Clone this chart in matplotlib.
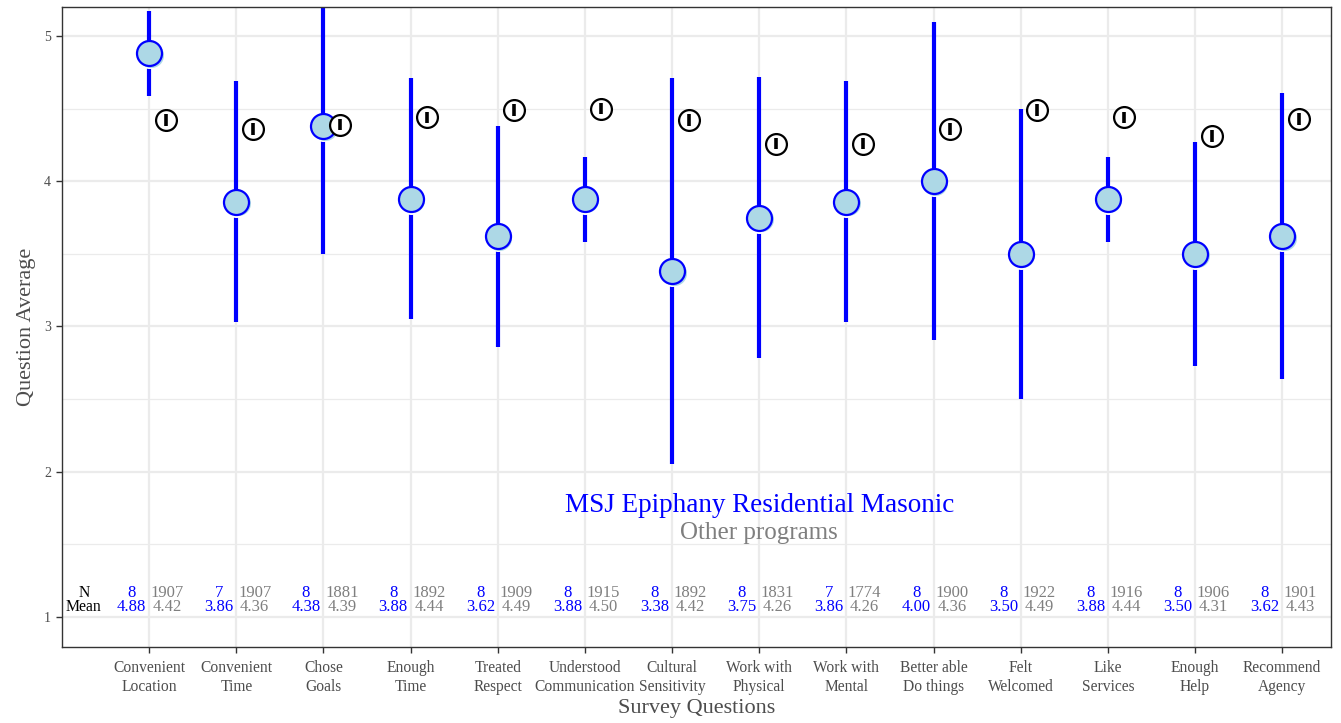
import matplotlib
matplotlib.use("Agg")
import matplotlib.pyplot as plt
import matplotlib.transforms as mtransforms
import numpy as np

plt.rcParams['font.family'] = ['Liberation Serif', 'DejaVu Serif']

questions = ["Convenient\nLocation", "Convenient\nTime", "Chose\nGoals", "Enough\nTime",
             "Treated\nRespect", "Understood\nCommunication", "Cultural\nSensitivity",
             "Work with\nPhysical", "Work with\nMental", "Better able\nDo things",
             "Felt\nWelcomed", "Like\nServices", "Enough\nHelp", "Recommend\nAgency"]

# program of interest
prog_n = [8, 7, 8, 8, 8, 8, 8, 8, 7, 8, 8, 8, 8, 8]
prog_mean = [4.88, 3.86, 4.38, 3.88, 3.62, 3.88, 3.38, 3.75, 3.86, 4.00, 3.50, 3.88, 3.50, 3.62]
prog_low = [4.59, 3.03, 3.50, 3.05, 2.86, 3.58, 2.05, 2.78, 3.03, 2.91, 2.50, 3.58, 2.73, 2.64]
prog_high = [5.17, 4.69, 5.26, 4.71, 4.38, 4.17, 4.71, 4.72, 4.69, 5.10, 4.50, 4.17, 4.27, 4.61]

# all other programs
other_n = [1907, 1907, 1881, 1892, 1909, 1915, 1892, 1831, 1774, 1900, 1922, 1916, 1906, 1901]
other_mean = [4.42, 4.36, 4.39, 4.44, 4.49, 4.50, 4.42, 4.26, 4.26, 4.36, 4.49, 4.44, 4.31, 4.43]
other_half = [0.04, 0.04, 0.04, 0.04, 0.04, 0.04, 0.04, 0.04, 0.04, 0.04, 0.04, 0.04, 0.04, 0.04]

BLUE = "#0000FF"
GREY = "#7F7F7F"
TXT = "#4D4D4D"

fig = plt.figure(figsize=(13.41, 7.23), dpi=100)
ax = fig.add_axes([62 / 1341, 1 - 647 / 723, (1331 - 62) / 1341, (647 - 7) / 723])

x = np.arange(1, len(questions) + 1)
xo = x + 0.19

# grid
for v in [1, 2, 3, 4, 5]:
    ax.axhline(v, color="#EBEBEB", lw=1.6, zorder=0)
for v in [1.5, 2.5, 3.5, 4.5]:
    ax.axhline(v, color="#EBEBEB", lw=0.9, zorder=0)
for v in x:
    ax.axvline(v, color="#EBEBEB", lw=1.6, zorder=0)

# program ranges and means
ax.vlines(x, prog_low, prog_high, color=BLUE, lw=3.0, zorder=2)
halo = mtransforms.offset_copy(ax.transData, fig=fig, x=0, y=-3, units='dots')
ax.plot(x, prog_mean, 'o', ms=18, mfc='white', mec='none', transform=halo, zorder=3)
shade = mtransforms.offset_copy(ax.transData, fig=fig, x=1.5, y=-1.5, units='dots')
ax.plot(x, prog_mean, 'o', ms=18, mfc='#ADD8E6', mec='none', transform=shade, zorder=4)
ax.plot(x, prog_mean, 'o', ms=18, mfc='#ADD8E6', mec=BLUE, mew=1.6, zorder=5)

# other programs
ax.plot(xo, other_mean, 'o', ms=15, mfc='white', mec='black', mew=1.6, zorder=6)
ax.vlines(xo, np.array(other_mean) - np.array(other_half),
          np.array(other_mean) + np.array(other_half), color='black', lw=2.6, zorder=7)

# N / Mean table
y_n, y_m = 1.168, 1.066
fs_tab = 12
ax.text(0.25, y_n, "N", ha='center', va='center', fontsize=11.3, color='black')
ax.text(0.25, y_m, "Mean", ha='center', va='center', fontsize=11.3, color='black')
for i in range(len(questions)):
    ax.text(x[i] - 0.2, y_n, f"{prog_n[i]}", ha='center', va='center', fontsize=fs_tab, color=BLUE)
    ax.text(x[i] - 0.2, y_m, f"{prog_mean[i]:.2f}", ha='center', va='center', fontsize=fs_tab, color=BLUE)
    ax.text(x[i] + 0.21, y_n, f"{other_n[i]}", ha='center', va='center', fontsize=fs_tab, color=GREY)
    ax.text(x[i] + 0.21, y_m, f"{other_mean[i]:.2f}", ha='center', va='center', fontsize=fs_tab, color=GREY)

# key
ax.text(8.0, 1.765, "MSJ Epiphany Residential Masonic", ha='center', va='center', fontsize=19.5, color=BLUE)
ax.text(8.0, 1.575, "Other programs", ha='center', va='center', fontsize=18, color=GREY)

ax.set_xlim(0.0, 14.56)
ax.set_ylim(0.793, 5.2)
ax.set_xticks(x)
ax.set_xticklabels(questions, fontsize=11.2, color=TXT, linespacing=1.3)
ax.set_yticks([1, 2, 3, 4, 5])
ax.set_yticklabels(["1", "2", "3", "4", "5"], fontsize=10, color=TXT)
ax.tick_params(axis='both', length=4, width=1, color='#333333')
ax.tick_params(axis='x', pad=5)
ax.tick_params(axis='y', pad=4)
for s in ax.spines.values():
    s.set_color('#333333')
    s.set_linewidth(1)

ax.set_xlabel("Survey Questions", fontsize=16, color=TXT, labelpad=3)
ax.set_ylabel("Question Average", fontsize=16, color=TXT, labelpad=6)

fig.savefig("out.png", dpi=100)
